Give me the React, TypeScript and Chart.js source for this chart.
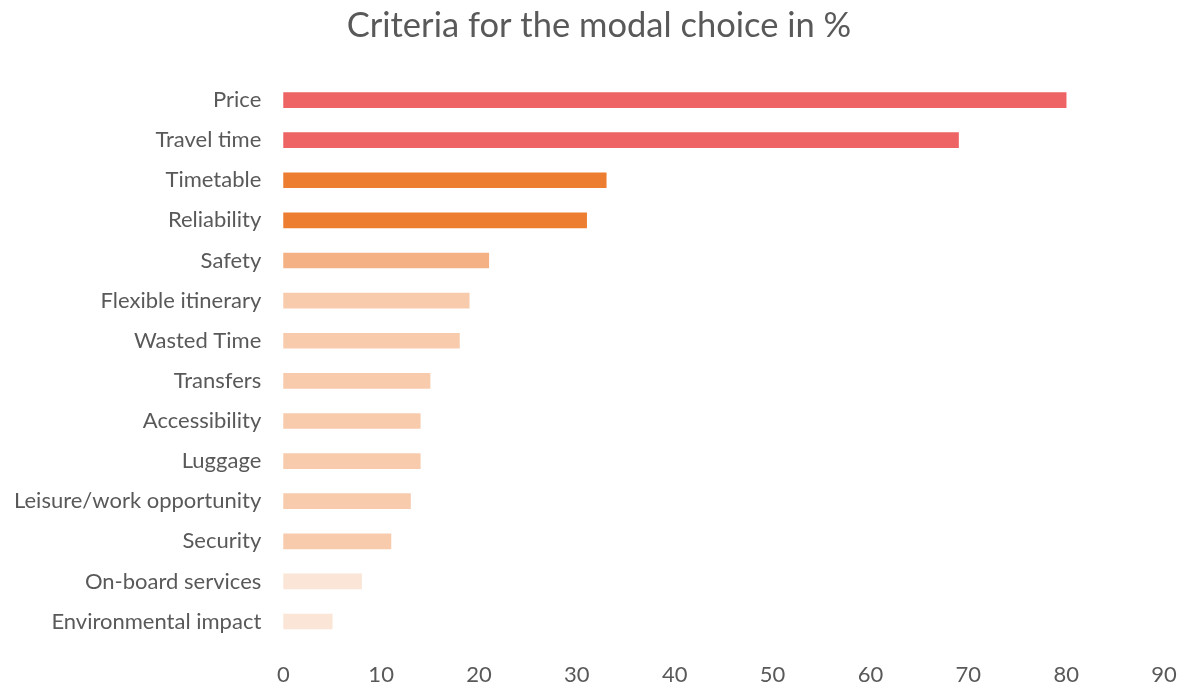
import React, { useEffect, useRef } from "react";
import { Chart, registerables } from "chart.js";

Chart.register(...registerables);

const categories = [
  "Price",
  "Travel time",
  "Timetable",
  "Reliability",
  "Safety",
  "Flexible itinerary",
  "Wasted Time",
  "Transfers",
  "Accessibility",
  "Luggage",
  "Leisure/work opportunity",
  "Security",
  "On-board services",
  "Environmental impact",
];

const values = [80, 69, 33, 31, 21, 19, 18, 15, 14, 14, 13, 11, 8, 5];

const barColors = [
  "#EE6363", "#EE6363",
  "#ED7D31", "#ED7D31",
  "#F4B183",
  "#F8CBAD", "#F8CBAD", "#F8CBAD", "#F8CBAD", "#F8CBAD", "#F8CBAD", "#F8CBAD",
  "#FBE5D6", "#FBE5D6",
];

const TITLE = "Criteria for the modal choice in %";

const FONT = "Lato, 'Open Sans', sans-serif";

const titlePlugin = {
  id: "offsetTitle",
  afterDraw(chart: any) {
    const ctx = chart.ctx;
    ctx.save();
    ctx.font = `normal 34.5px ${FONT}`;
    ctx.fillStyle = "#595959";
    ctx.textAlign = "center";
    ctx.textBaseline = "middle";
    ctx.fillText(TITLE, 599, 26);
    ctx.restore();
  },
};

export default function App() {
  const ref = useRef<HTMLCanvasElement | null>(null);
  useEffect(() => {
    if (!ref.current) return;
    const chart = new Chart(ref.current, {
      type: "bar",
      data: {
        labels: categories,
        datasets: [
          {
            data: values,
            backgroundColor: barColors,
            barThickness: 15,
          },
        ],
      },
      plugins: [titlePlugin],
      options: {
        indexAxis: "y",
        animation: false,
        responsive: true,
        maintainAspectRatio: false,
        layout: { padding: { left: 0, right: 21, top: 80, bottom: -13 } },
        plugins: {
          legend: { display: false },
          tooltip: { enabled: false },
          title: { display: false },
        },
        scales: {
          x: {
            min: 0,
            max: 90,
            afterFit: (scale: any) => {
              scale.paddingRight = 0;
            },
            ticks: {
              stepSize: 10,
              color: "#595959",
              font: { family: FONT, size: 22 },
              padding: 12,
            },
            grid: { display: false },
            border: { display: false },
          },
          y: {
            ticks: {
              color: "#595959",
              font: { family: FONT, size: 22 },
              padding: 14,
            },
            grid: { display: false },
            border: { display: false },
          },
        },
      },
    });
    return () => chart.destroy();
  }, []);
  return (
    <div style={{ position: "fixed", left: 0, top: 0, width: 1185, height: 687, background: "#fff" }}>
      <canvas ref={ref} />
    </div>
  );
}
